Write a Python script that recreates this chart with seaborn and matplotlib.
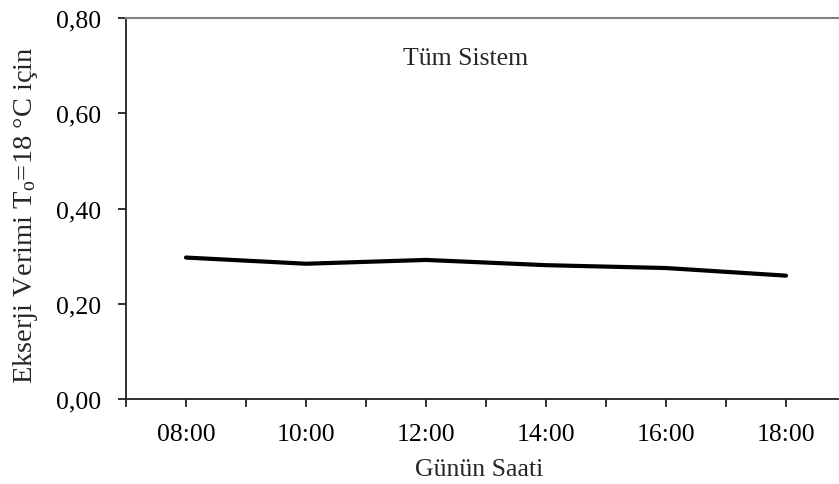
import matplotlib
matplotlib.use("Agg")
import matplotlib.pyplot as plt
import seaborn as sns
import pandas as pd
from matplotlib.ticker import FixedLocator, FixedFormatter

hours = [8, 10, 12, 14, 16, 18]
hour_labels = ["08:00", "10:00", "12:00", "14:00", "16:00", "18:00"]
efficiency = [0.297, 0.284, 0.292, 0.281, 0.275, 0.259]
y_ticks = [0.0, 0.2, 0.4, 0.6, 0.8]
y_labels = ["0,00", "0,20", "0,40", "0,60", "0,80"]

sns.set_style("ticks")
plt.rcParams['font.family'] = ['Liberation Serif', 'DejaVu Serif']
plt.rcParams['mathtext.fontset'] = 'custom'
plt.rcParams['mathtext.rm'] = 'Liberation Serif'
plt.rcParams['mathtext.it'] = 'Liberation Serif'

df = pd.DataFrame({"hour": hours, "eff": efficiency})

fig = plt.figure(figsize=(8.39, 4.85), dpi=100)
ax = fig.add_axes([126/839, (485-400)/485, (839-126)/839, (400-19)/485])

sns.lineplot(data=df, x="hour", y="eff", ax=ax, color="black", linewidth=3.0)

ax.set_xlim(7, 7 + (839-126)/60)
ax.set_ylim(0, 0.8)

ax.xaxis.set_major_locator(FixedLocator(hours))
ax.xaxis.set_major_formatter(FixedFormatter(hour_labels))
ax.xaxis.set_minor_locator(FixedLocator([7, 9, 11, 13, 15, 17]))
ax.yaxis.set_major_locator(FixedLocator(y_ticks))
ax.yaxis.set_major_formatter(FixedFormatter(y_labels))

ax.tick_params(axis="both", which="both", direction="out", length=6, width=1.3,
               color="#222222", labelsize=18.5, labelcolor="black")
ax.tick_params(axis="x", which="both", pad=11)
ax.tick_params(axis="y", pad=12)

for s in ["left", "bottom"]:
    ax.spines[s].set_color("#222222")
    ax.spines[s].set_linewidth(1.3)
ax.spines["right"].set_visible(False)
ax.spines["top"].set_color("#808080")
ax.spines["top"].set_linewidth(1.5)

ax.set_xlabel("Günün Saati", fontsize=18.5, labelpad=10)
ax.set_ylabel("Ekserji Verimi T$_\\mathrm{o}$=18 °C için", fontsize=20.5, labelpad=13)
ax.yaxis.set_label_coords(-0.1415, 0.486)
ax.yaxis.label.set_va("center")
ax.xaxis.label.set_position((0.495, 0))

ax.text(0.476, 0.895, "Tüm Sistem", transform=ax.transAxes, fontsize=18.5,
        ha="center", va="center")

fig.savefig("out.png", dpi=100)
